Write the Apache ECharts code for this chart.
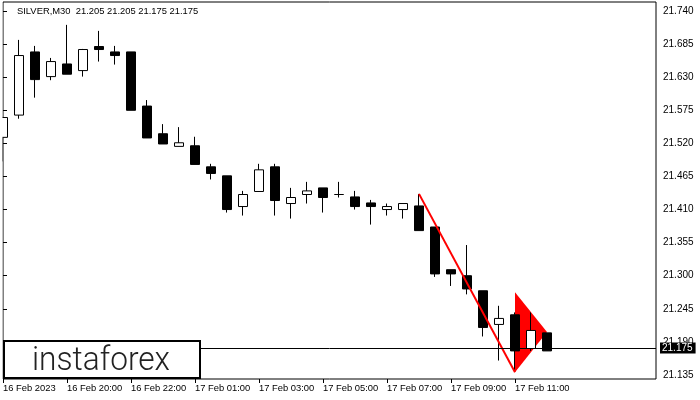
<!DOCTYPE html>
<html><head><meta charset="utf-8">
<script src="https://cdn.jsdelivr.net/npm/echarts@6/dist/echarts.min.js"></script>
<style>html,body{margin:0;padding:0;background:#fff}#c{width:700px;height:400px}</style>
</head><body><div id="c"></div>
<script>
// M30 candles, index 0 = 16 Feb 18:00
const open  = [21.530,21.567,21.672,21.631,21.652,21.641,21.681,21.672,21.672,21.582,21.536,21.515,21.516,21.481,21.466,21.415,21.440,21.481,21.420,21.435,21.446,21.435,21.431,21.421,21.410,21.410,21.416,21.381,21.310,21.300,21.275,21.219,21.235,21.179,21.205];
const close = [21.563,21.666,21.626,21.656,21.635,21.676,21.676,21.666,21.575,21.529,21.519,21.521,21.485,21.470,21.410,21.435,21.476,21.425,21.430,21.441,21.430,21.435,21.415,21.415,21.415,21.420,21.375,21.303,21.303,21.278,21.214,21.229,21.175,21.209,21.175];
const low   = [21.490,21.561,21.596,21.625,21.635,21.631,21.656,21.651,21.575,21.529,21.519,21.515,21.485,21.460,21.405,21.400,21.440,21.400,21.395,21.420,21.405,21.430,21.410,21.385,21.400,21.395,21.375,21.298,21.283,21.269,21.199,21.159,21.140,21.175,21.175];
const high  = [21.564,21.692,21.682,21.662,21.717,21.677,21.707,21.682,21.672,21.592,21.552,21.547,21.531,21.486,21.466,21.441,21.486,21.486,21.446,21.456,21.446,21.456,21.441,21.426,21.420,21.420,21.436,21.381,21.310,21.351,21.275,21.250,21.239,21.239,21.205];

const tickIdx    = [0,4,8,12,16,20,24,28,32];
const tickLabels = ['16 Feb 2023','16 Feb 20:00','16 Feb 22:00','17 Feb 01:00','17 Feb 03:00','17 Feb 05:00','17 Feb 07:00','17 Feb 09:00','17 Feb 11:00'];
const yTicks     = [21.135,21.190,21.245,21.300,21.355,21.410,21.465,21.520,21.575,21.630,21.685,21.740];
const lastPrice  = 21.175;

const poleX    = [26, 32];
const poleY    = [21.436, 21.1395];
const pennantX = [32, 34, 32];
const pennantY = [21.2725, 21.2065, 21.1395];

const titleText = 'SILVER,M30  21.205 21.205 21.175 21.175';
const logoText  = 'instaforex';

const candles = open.map((o,i)=>[i,o,close[i],low[i],high[i]]);
const FONT = 'Liberation Sans';

const mctx = document.createElement('canvas').getContext('2d');
mctx.font = '300 33px Roboto';
const logoScale = 138 / mctx.measureText(logoText).width;

const chart = echarts.init(document.getElementById('c'), null, {renderer:'canvas'});
chart.setOption({
  animation:false,
  backgroundColor:'#fff',
  grid:{left:3,right:44,top:2,bottom:21,show:true,borderColor:'#000',borderWidth:1,backgroundColor:'#fff'},
  xAxis:{
    type:'value', min:0, max:653/16,
    axisLine:{show:false}, splitLine:{show:false},
    axisTick:{show:true, customValues:tickIdx, length:4, lineStyle:{color:'#000'}},
    axisLabel:{customValues:tickIdx, formatter:v=>{const k=tickIdx.indexOf(Math.round(v));return k>=0?tickLabels[k]:'';},
      align:'left', margin:5, color:'#000', fontSize:9.4, fontFamily:FONT}
  },
  yAxis:{
    type:'value', position:'right', min:21.1283, max:21.755, scale:true,
    axisLine:{show:false}, splitLine:{show:false},
    axisTick:{show:true, customValues:yTicks, length:4, lineStyle:{color:'#000'}},
    axisLabel:{customValues:yTicks, formatter:v=>Number(v).toFixed(3), margin:7, color:'#000', fontSize:10, fontFamily:FONT}
  },
  series:[
    {
      type:'custom', z:1, silent:true,
      data: pennantX.map((x,i)=>[x,pennantY[i]]),
      encode:{x:0,y:1},
      renderItem:function(params, api){
        if (params.dataIndex !== 0) return null;
        const pts = pennantX.map((x,i)=>api.coord([x,pennantY[i]]));
        return {type:'polygon', shape:{points:pts}, style:{fill:'#ff0000'}};
      }
    },
    {
      type:'candlestick', z:2, silent:true,
      data:candles, encode:{x:0,y:[1,2,3,4]},
      barWidth:10,
      itemStyle:{color:'#fff',color0:'#000',borderColor:'#000',borderColor0:'#000',borderColorDoji:'#000',borderWidth:1},
      markLine:{
        silent:true, symbol:['none','none'], animation:false,
        data:[{yAxis:lastPrice}],
        lineStyle:{color:'#000',width:1,type:'solid'},
        label:{show:true,position:'end',formatter:lastPrice.toFixed(3),backgroundColor:'#000',color:'#fff',
          fontSize:10,fontFamily:FONT,padding:[1,3,0,2],distance:4},
        emphasis:{disabled:true}
      }
    },
    {
      type:'line', z:3, silent:true, symbol:'none',
      data: poleX.map((x,i)=>[x,poleY[i]]),
      lineStyle:{color:'#ff0000',width:2}
    }
  ],
  graphic:[
    {type:'rect', z:90, shape:{x:0,y:0,width:2.5,height:380}, style:{fill:'#fff'}},
    {type:'rect', z:100, shape:{x:4,y:341,width:196,height:37}, style:{fill:'#fff',stroke:'#000',lineWidth:2}},
    {type:'text', z:101, x:32, y:362, scaleX:logoScale, style:{text:logoText,font:'300 33px Roboto',fill:'#222',verticalAlign:'middle',align:'left'}},
    {type:'text', z:101, x:17, y:11, style:{text:titleText,font:'9.4px "Liberation Sans"',fill:'#000',verticalAlign:'middle',align:'left'}}
  ]
});
</script>
</body></html>
